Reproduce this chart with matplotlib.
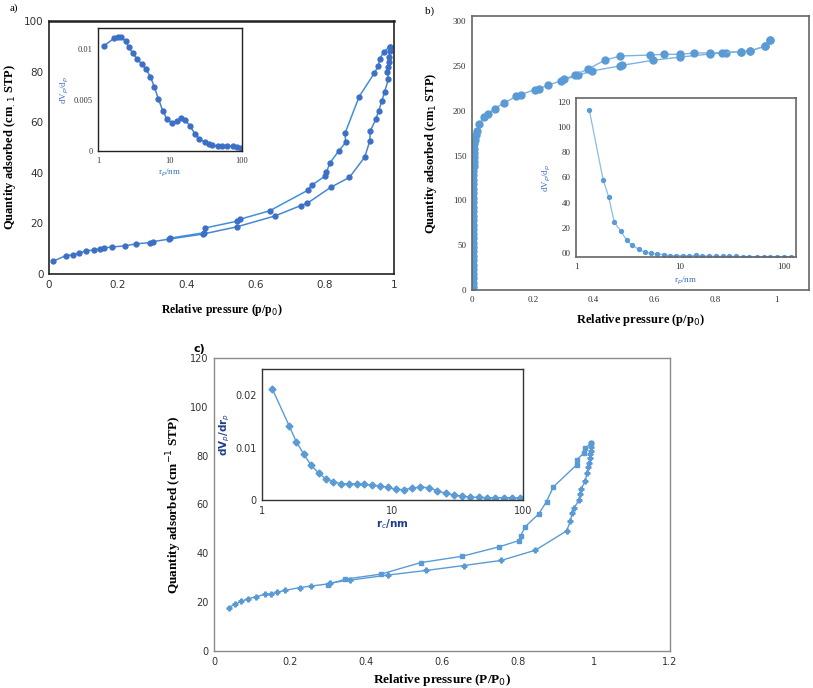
import matplotlib.pyplot as plt
import numpy as np

# ---- panel a: isotherm ----
a_ads_p = [0.0125, 0.048, 0.069, 0.087, 0.106, 0.130, 0.148, 0.160, 0.183, 0.220, 0.251, 0.292, 0.302, 0.348,
           0.447, 0.546, 0.654, 0.729, 0.748, 0.817, 0.871, 0.915, 0.930, 0.931, 0.947, 0.956, 0.965, 0.973,
           0.984, 0.981, 0.983, 0.985, 0.986, 0.987, 0.987]
a_ads_q = [5.1, 7.2, 7.6, 8.2, 9.1, 9.5, 9.9, 10.3, 10.7, 11.1, 11.9, 12.4, 12.8, 13.8,
           15.8, 18.7, 22.9, 27.0, 27.9, 34.3, 38.2, 46.2, 52.6, 56.4, 61.1, 64.6, 68.5, 72.1,
           77.1, 79.8, 81.7, 83.8, 85.9, 88.3, 89.9]
a_des_p = [0.987, 0.970, 0.958, 0.955, 0.943, 0.899, 0.858, 0.860, 0.840, 0.815, 0.804, 0.800, 0.761, 0.750,
           0.640, 0.555, 0.546, 0.453, 0.449, 0.352]
a_des_q = [89.9, 87.6, 85.0, 82.3, 79.4, 70.1, 55.6, 52.0, 48.7, 44.0, 40.3, 38.7, 35.0, 33.1,
           25.0, 21.7, 20.9, 18.2, 16.3, 14.2]
# panel a inset: pore size distribution
a_psd_r = [1.22, 1.65, 1.87, 2.12, 2.44, 2.68, 3.05, 3.50, 4.02, 4.66, 5.35, 6.07, 6.90, 8.0, 9.1, 10.8,
           12.5, 14.4, 16.1, 18.9, 22.2, 25.5, 30.2, 34.3, 38.9, 46.1, 52.8, 62.7, 75.1, 85.3, 96.9]
a_psd_v = [0.01026, 0.01098, 0.01108, 0.01108, 0.01069, 0.0101, 0.00954, 0.00895, 0.00852, 0.00797,
           0.00725, 0.00623, 0.00508, 0.00387, 0.00308, 0.00272, 0.00292, 0.00318, 0.00305, 0.00246,
           0.00167, 0.00118, 0.00089, 0.00069, 0.00056, 0.00046, 0.00046, 0.00046, 0.00046, 0.00039, 0.0003]

# ---- panel b: isotherm ----
b_ads_p = [0.004, 0.004, 0.004, 0.004, 0.004, 0.004, 0.004, 0.004, 0.004, 0.004, 0.004, 0.004, 0.004,
           0.004, 0.004, 0.004, 0.004, 0.004, 0.004, 0.004, 0.004, 0.004, 0.004, 0.004, 0.004, 0.004,
           0.004, 0.005, 0.005, 0.006, 0.006, 0.007, 0.008, 0.010, 0.013, 0.018,
           0.024, 0.041, 0.052, 0.075, 0.105, 0.146, 0.161, 0.206, 0.221, 0.249, 0.294, 0.348, 0.395,
           0.486, 0.493, 0.594, 0.685, 0.784, 0.836, 0.883, 0.914, 0.962, 0.981]
b_ads_q = [3, 8, 13, 18, 23, 28, 33, 38, 43, 48, 53, 58, 63, 68, 73, 78, 83, 88, 93, 98, 103, 108,
           113, 118, 123, 128, 133, 138, 143, 148, 153, 158, 163, 168, 173, 178,
           185.1, 193.3, 197.0, 202.6, 208.9, 216.3, 218.2, 223.8, 224.9, 228.6, 233.8, 239.8, 244.6,
           250.2, 250.9, 256.5, 260.2, 263.6, 265.1, 266.2, 266.9, 272.1, 278.8]
b_des_p = [0.981, 0.962, 0.914, 0.883, 0.822, 0.781, 0.730, 0.683, 0.630, 0.584, 0.486, 0.436,
           0.380, 0.340, 0.302]
b_des_q = [278.8, 272.1, 266.9, 266.2, 265.1, 264.7, 264.7, 263.2, 263.2, 262.4, 261.3, 256.5,
           246.5, 240.5, 235.3]
# panel b inset
b_psd_r = [1.34, 1.82, 2.07, 2.33, 2.68, 3.06, 3.45, 4.0, 4.6, 5.2, 6.0, 6.95, 8.0, 9.1, 10.6, 12.3,
           14.1, 16.3, 18.9, 21.9, 25.6, 29.6, 34.4, 40.1, 46.1, 54.7, 63.4, 73.4, 85.1, 100, 117.5]
b_psd_v = [114.1, 58.4, 44.1, 24.2, 17.5, 10.0, 5.9, 2.7, 0.3, -0.5, -1.1, -1.6, -2.4, -2.4, -2.4, -2.7,
           -2.2, -2.7, -2.7, -3.0, -3.0, -3.0, -3.0, -3.2, -3.2, -3.2, -3.2, -3.2, -3.2, -3.2, -3.2]

# ---- panel c: isotherm ----
c_ads_p = [0.0386, 0.056, 0.071, 0.089, 0.110, 0.133, 0.150, 0.166, 0.186, 0.226, 0.255, 0.302, 0.306,
           0.357, 0.457, 0.559, 0.657, 0.756, 0.846, 0.928, 0.938, 0.942, 0.947, 0.960, 0.963, 0.966,
           0.977, 0.981, 0.985, 0.988, 0.989, 0.990, 0.991, 0.992, 0.992]
c_ads_q = [17.8, 19.2, 20.3, 21.4, 22.2, 23.2, 23.4, 24.1, 24.8, 26.0, 26.6, 27.5, 27.9,
           29.0, 31.1, 33.0, 35.0, 37.1, 41.3, 49.2, 53.3, 56.4, 58.4, 61.7, 64.2, 66.3,
           69.6, 72.8, 75.2, 77.1, 79.0, 80.7, 82.0, 83.7, 85.0]
c_des_p = [0.992, 0.976, 0.974, 0.954, 0.954, 0.893, 0.875, 0.855, 0.819, 0.807, 0.802, 0.751,
           0.653, 0.544, 0.440, 0.344, 0.301]
c_des_q = [85.0, 83.0, 81.2, 78.2, 76.2, 67.2, 61.2, 56.2, 50.9, 47.2, 45.2, 42.7,
           38.8, 36.2, 31.5, 29.4, 27.2]
# panel c inset
c_psd_r = [1.2, 1.62, 1.83, 2.09, 2.37, 2.71, 3.07, 3.53, 4.04, 4.65, 5.32, 6.09, 6.97, 8.02, 9.18, 10.6,
           12.2, 14.2, 16.2, 18.9, 21.9, 25.6, 29.7, 34.0, 39.4, 45.8, 52.7, 61.1, 71.1, 82.8, 95.5]
c_psd_v = [0.0212, 0.01408, 0.01115, 0.00873, 0.00669, 0.00516, 0.00408, 0.00344, 0.00312, 0.00306,
           0.00312, 0.00299, 0.00287, 0.00268, 0.00242, 0.00204, 0.00197, 0.00229, 0.00248, 0.00236,
           0.00178, 0.00127, 0.00096, 0.00076, 0.00057, 0.00051, 0.00045, 0.00045, 0.00045, 0.00045, 0.00038]

W, H = 813, 688
SERIF = 'Liberation Serif'


def box(l, t, r, b):
    # pixel box (left, top, right, bottom) -> figure fraction rect
    return [l / W, 1 - b / H, (r - l) / W, (b - t) / H]


def style_axes(ax, edge='#555555', lw=1.0, labelsize=8, family='DejaVu Sans', tcolor='#333333'):
    for s in ax.spines.values():
        s.set_color(edge)
        s.set_linewidth(lw)
    ax.tick_params(length=0, labelsize=labelsize, colors=tcolor, pad=4)
    for lab in ax.get_xticklabels() + ax.get_yticklabels():
        lab.set_family(family)


fig = plt.figure(figsize=(W / 100, H / 100), dpi=100)

# ================= panel a =================
axa = fig.add_axes(box(49, 21, 394, 274))
col_a = '#3c6fc6'
axa.plot(a_ads_p, a_ads_q, '-o', color='#4a86d0', mfc=col_a, mec=col_a, ms=3.5, lw=1.1)
axa.plot(a_des_p, a_des_q, '-o', color='#3f90dc', mfc=col_a, mec=col_a, ms=3.5, lw=1.1)
axa.set_xlim(0, 1)
axa.set_ylim(0, 100)
axa.set_xticks([0, 0.2, 0.4, 0.6, 0.8, 1])
axa.set_xticklabels(['0', '0.2', '0.4', '0.6', '0.8', '1'])
axa.set_yticks([0, 20, 40, 60, 80, 100])
style_axes(axa, edge='#222222', lw=1.2, labelsize=7.5)
axa.spines['top'].set_linewidth(1.8)
axa.set_xlabel('Relative pressure (p/p$_0$)', family=SERIF, fontweight='bold', fontsize=8.5, labelpad=9)
axa.set_ylabel('Quantity adsorbed (cm$_{.1}$ STP)', family=SERIF, fontweight='bold', fontsize=9, labelpad=4)
fig.text(10 / W, 1 - 11 / H, 'a)', family=SERIF, fontsize=8)

ia = fig.add_axes(box(98, 28, 242, 151))
ia.plot(a_psd_r, a_psd_v, '-o', color='#4a7fd0', mfc=col_a, mec=col_a, ms=3.5, lw=1.1)
ia.set_xscale('log')
ia.set_xlim(1, 100)
ia.set_ylim(0, 0.012)
ia.set_yticks([0, 0.005, 0.01])
ia.set_yticklabels(['0', '0.005', '0.01'])
ia.set_xticks([1, 10, 100])
ia.set_xticklabels(['1', '10', '100'])
ia.minorticks_off()
style_axes(ia, edge='#222222', lw=1.0, labelsize=6, family=SERIF)
ia.set_xlabel('r$_p$/nm', family=SERIF, fontsize=6.5, color='#3c6fc6', labelpad=2)
ia.set_ylabel('dV$_p$/d$_p$', family=SERIF, fontsize=6.5, color='#3c6fc6', labelpad=2)

# ================= panel b =================
axb = fig.add_axes(box(472, 16, 809, 290))
col_b = '#5b9bd5'
axb.plot(b_ads_p, b_ads_q, '-o', color='#7fb2e2', mfc=col_b, mec=col_b, ms=5, lw=1.0)
axb.plot(b_des_p, b_des_q, '-o', color='#7fb2e2', mfc=col_b, mec=col_b, ms=5, lw=1.0)
axb.set_xlim(0, 1.108)
axb.set_ylim(0, 306)
axb.set_xticks([0, 0.2, 0.4, 0.6, 0.8, 1])
axb.set_xticklabels(['0', '0.2', '0.4', '0.6', '0.8', '1'])
axb.set_yticks([0, 50, 100, 150, 200, 250, 300])
style_axes(axb, edge='#666666', lw=1.2, labelsize=6.5, family=SERIF)
axb.set_xlabel('Relative pressure (p/p$_0$)', family=SERIF, fontweight='bold', fontsize=9, labelpad=6)
axb.set_ylabel('Quantity adsorbed (cm$_1$ STP)', family=SERIF, fontweight='bold', fontsize=9, labelpad=10)
fig.text(425 / W, 1 - 14 / H, 'b)', family=SERIF, fontsize=8)

ib = fig.add_axes(box(576, 98, 796, 257))
ib.plot(b_psd_r, b_psd_v, '-o', color='#8dbbe6', mfc=col_b, mec=col_b, ms=2.8, lw=0.9)
ib.set_xscale('log')
ib.set_xlim(1, 130)
ib.set_ylim(-3.5, 123.5)
ib.set_yticks([0, 20, 40, 60, 80, 100, 120])
ib.set_yticklabels(['00', '20', '40', '60', '80', '100', '120'])
ib.set_xticks([1, 10, 100])
ib.set_xticklabels(['1', '10', '100'])
ib.minorticks_off()
style_axes(ib, edge='#666666', lw=1.2, labelsize=6.5, family=SERIF)
ib.set_xlabel('r$_p$/nm', family=SERIF, fontsize=6.5, color='#3c6fc6', labelpad=3)
ib.set_ylabel('dV$_p$/d$_p$', family=SERIF, fontsize=6.5, color='#3c6fc6', labelpad=3)

# ================= panel c =================
axc = fig.add_axes(box(214, 358, 670, 651))
col_c = '#5b9bd5'
axc.plot(c_ads_p, c_ads_q, '-P', color=col_c, mfc=col_c, mec=col_c, ms=3.5, lw=1.0)
axc.plot(c_des_p, c_des_q, '-s', color=col_c, mfc=col_c, mec=col_c, ms=3.2, lw=1.0)
axc.set_xlim(0, 1.2)
axc.set_ylim(0, 120)
axc.set_xticks([0, 0.2, 0.4, 0.6, 0.8, 1, 1.2])
axc.set_xticklabels(['0', '0.2', '0.4', '0.6', '0.8', '1', '1.2'])
axc.set_yticks([0, 20, 40, 60, 80, 100, 120])
style_axes(axc, edge='#8a8a8a', lw=1.0, labelsize=7)
axc.set_xlabel('Relative pressure (P/P$_0$)', family=SERIF, fontweight='bold', fontsize=9.5, labelpad=4)
axc.set_ylabel('Quantity adsorbed (cm$^{-1}$ STP)', family=SERIF, fontweight='bold', fontsize=9.5, labelpad=4)
fig.text(193 / W, 1 - 352 / H, 'c)', family='DejaVu Sans', fontweight='bold', fontsize=8)

ic = fig.add_axes(box(262, 369, 523, 500))
ic.plot(c_psd_r, c_psd_v, '-D', color=col_c, mfc=col_c, mec=col_c, ms=3.5, lw=1.0)
ic.set_xscale('log')
ic.set_xlim(1, 100)
ic.set_ylim(0, 0.025)
ic.set_yticks([0, 0.01, 0.02])
ic.set_yticklabels(['0', '0.01', '0.02'])
ic.set_xticks([1, 10, 100])
ic.set_xticklabels(['1', '10', '100'])
ic.minorticks_off()
style_axes(ic, edge='#333333', lw=1.0, labelsize=7)
ic.set_xlabel('r$_c$/nm', fontsize=7.5, fontweight='bold', color='#1f3d8a', labelpad=1)
ic.set_ylabel('dV$_p$/dr$_p$', fontsize=7.5, fontweight='bold', color='#1f3d8a', labelpad=2)

fig.savefig('out.png', dpi=100)
